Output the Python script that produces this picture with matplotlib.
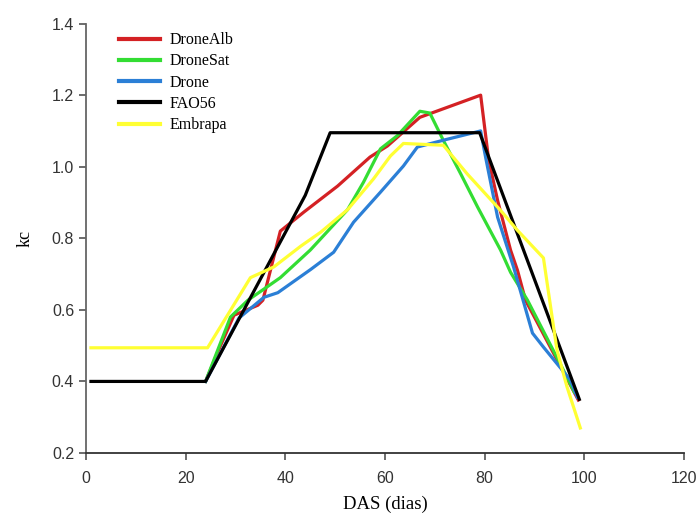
import matplotlib.pyplot as plt

# dados (DAS em dias, kc)
das_alb = [24, 27, 29.7, 34.5, 35.5, 39, 43.7, 50.5, 57, 60.5, 67, 79.2, 80.8, 82.6, 85.2, 86.6, 88.2, 98.8]
kc_alb = [0.40, 0.50, 0.585, 0.613, 0.627, 0.82, 0.873, 0.946, 1.027, 1.058, 1.138, 1.20, 1.02, 0.906, 0.767, 0.71, 0.627, 0.348]

das_sat = [24, 29, 32.5, 39, 45, 52.5, 55.7, 59.1, 62.5, 67, 69, 71.7, 75.2, 78.6, 83.2, 85.2, 88.6, 96.6, 98]
kc_sat = [0.40, 0.58, 0.627, 0.69, 0.767, 0.88, 0.957, 1.05, 1.087, 1.155, 1.15, 1.074, 0.98, 0.887, 0.767, 0.705, 0.627, 0.41, 0.37]

das_drone = [24, 30.7, 35.7, 38.5, 45.1, 49.7, 53.7, 59.1, 63.7, 66.5, 71.7, 79.2, 80.2, 82.6, 85.8, 89.6, 91.8, 97.2, 98.6]
kc_drone = [0.40, 0.577, 0.635, 0.648, 0.713, 0.761, 0.845, 0.929, 1.002, 1.055, 1.074, 1.10, 1.026, 0.859, 0.72, 0.535, 0.496, 0.404, 0.356]

das_fao = [1, 24, 44, 49, 79, 99]
kc_fao = [0.40, 0.40, 0.92, 1.095, 1.095, 0.35]

das_emb = [1, 24.4, 33, 37.7, 43.1, 47.1, 52.5, 57.7, 61.1, 63.7, 71.7, 76.5, 83.2, 86.6, 91.8, 94.5, 96.5, 99.2]
kc_emb = [0.494, 0.494, 0.69, 0.72, 0.778, 0.817, 0.88, 0.966, 1.03, 1.065, 1.06, 0.98, 0.878, 0.822, 0.745, 0.489, 0.386, 0.27]

series = [
    ('DroneAlb', das_alb, kc_alb, '#d42124'),
    ('DroneSat', das_sat, kc_sat, '#33dd33'),
    ('Drone', das_drone, kc_drone, '#2b7fd6'),
    ('FAO56', das_fao, kc_fao, 'black'),
    ('Embrapa', das_emb, kc_emb, '#ffff33'),
]

fig = plt.figure(figsize=(6.99, 5.24), dpi=100)
ax = fig.add_axes([0.123, 0.1355, 0.8555, 0.8195])

for nome, x, y, cor in series:
    ax.plot(x, y, color=cor, linewidth=2.3, label=nome)

ax.set_xlim(0, 120)
ax.set_ylim(0.2, 1.4)
ax.set_xticks(range(0, 121, 20))
ax.set_yticks([0.2, 0.4, 0.6, 0.8, 1.0, 1.2, 1.4])
ax.set_yticklabels(['0.2', '0.4', '0.6', '0.8', '1.0', '1.2', '1.4'])

for s in ['top', 'right']:
    ax.spines[s].set_visible(False)
ax.spines['left'].set_color('#666666')
ax.spines['bottom'].set_color('#333333')
ax.spines['left'].set_linewidth(1.3)
ax.spines['bottom'].set_linewidth(1.3)
ax.tick_params(direction='out', length=5, width=1.1, colors='#444444', labelcolor='#333333', labelsize=11.5)
for lab in ax.get_xticklabels() + ax.get_yticklabels():
    lab.set_family('Liberation Sans')
ax.tick_params(axis='x', pad=8)

ax.set_xlabel('DAS (dias)', family='Liberation Serif', fontsize=13.5, labelpad=7)
ax.set_ylabel('kc', family='Liberation Serif', fontsize=13, labelpad=13)

leg = ax.legend(loc='upper left', bbox_to_anchor=(0.044, 0.995), borderaxespad=0, frameon=False,
                prop={'family': 'Liberation Serif', 'size': 11.5}, handlelength=2.6, labelspacing=0.33,
                handletextpad=0.6)
for h in leg.get_lines():
    h.set_linewidth(3)

fig.savefig('out.png', dpi=100)
